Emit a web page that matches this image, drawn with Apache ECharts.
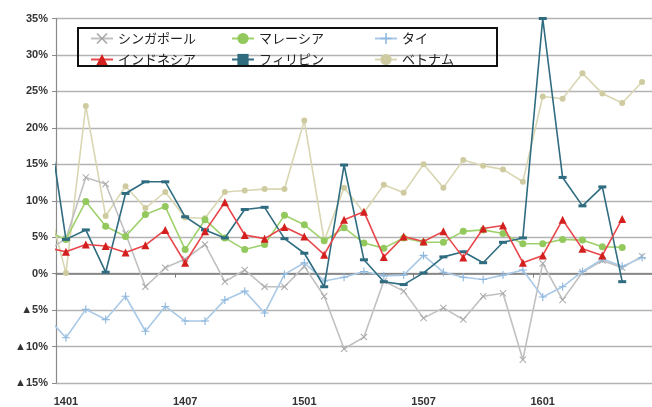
<!DOCTYPE html>
<html><head><meta charset="utf-8">
<script src="https://cdn.jsdelivr.net/npm/echarts@6/dist/echarts.min.js"></script>
<style>html,body{margin:0;padding:0;background:#fff}#c{width:652px;height:407px}</style>
</head><body><div id="c"></div>
<script>
// months (first one lies just left of the plot and is clipped, as in the source)
const categories = ['1312','1401','1402','1403','1404','1405','1406','1407','1408','1409','1410','1411','1412',
  '1501','1502','1503','1504','1505','1506','1507','1508','1509','1510','1511','1512',
  '1601','1602','1603','1604','1605','1606'];
const tickLabels = ['1401','1407','1501','1507','1601'];
const yTicks = [-15,-10,-5,0,5,10,15,20,25,30,35];

const singapore = [3.0, 4.8,13.2,12.3,5.5,-1.8,0.8,2.0,4.0,-1.1,0.5,-1.8,-1.8, 1.0,-3.1,-10.3,-8.7,-1.0,-2.4,-6.1,-4.7,-6.3,-3.1,-2.7,-11.8, 1.4,-3.6,0.2,1.8,0.8,2.4];
const malaysia  = [5.9, 4.7,9.9,6.5,5.1,8.1,9.2,3.3,7.4,4.9,3.3,4.0,8.0, 6.7,4.5,6.3,4.2,3.5,4.9,4.3,4.3,5.8,6.0,5.5,4.1, 4.1,4.7,4.6,3.7,3.6,null];
const thailand  = [-5.8, -8.8,-4.9,-6.3,-3.1,-7.9,-4.5,-6.5,-6.5,-3.6,-2.4,-5.4,-0.1, 1.5,-1.0,-0.5,0.3,-0.3,-0.2,2.5,0.2,-0.5,-0.8,-0.2,0.5, -3.2,-1.8,0.3,2.0,1.0,2.2];
const indonesia = [3.6, 3.0,4.0,3.8,2.9,3.9,6.0,1.5,5.8,9.8,5.3,4.8,6.4, 5.1,2.6,7.4,8.5,2.3,5.1,4.4,5.8,2.2,6.2,6.6,1.5, 2.5,7.4,3.4,2.5,7.5,null];
const philippines=[23.0, 4.7,6.0,0.2,11.0,12.6,12.6,7.8,6.0,4.9,8.8,9.1,4.8, 2.8,-1.8,14.9,1.9,-1.1,-1.5,0.1,2.3,3.0,1.5,4.3,4.9, 35.0,13.2,9.3,11.9,-1.1,null];
const vietnam   = [10.5, 0.1,23.0,7.9,12.0,9.0,11.2,7.7,7.6,11.2,11.4,11.6,11.6, 21.0,4.5,11.8,8.4,12.2,11.1,15.0,11.8,15.6,14.8,14.3,12.6, 24.3,24.0,27.5,24.7,23.4,26.3];

const names = ['シンガポール','マレーシア','タイ','インドネシア','フィリピン','ベトナム'];

const toPairs = arr => arr.map((v, k) => [k - 1, v]);
const labelValues = tickLabels.map(t => categories.indexOf(t) - 1);
const nPts = categories.length - 1;

const X_PATH = 'path://M0,1L1,0L5,4L9,0L10,1L6,5L10,9L9,10L5,6L1,10L0,9L4,5Z';
const PLUS_PATH = 'path://M4.3,0H5.7V4.3H10V5.7H5.7V10H4.3V5.7H0V4.3H4.3Z';

function mk(name, data, lineColor, markColor, symbol, size, z) {
  return {
    name, type: 'line', data: toPairs(data), z,
    symbol, symbolSize: size, showSymbol: true, clip: true,
    lineStyle: { color: lineColor, width: 1.6 },
    itemStyle: { color: markColor, borderColor: markColor, borderWidth: 0 },
    emphasis: { disabled: true }, animation: false
  };
}

const chart = echarts.init(document.getElementById('c'), null, { renderer: 'canvas' });
const legendBase = {
  orient: 'vertical', top: 27, itemWidth: 22, itemHeight: 14, itemGap: 8,
  textStyle: { fontSize: 13, color: '#222', fontFamily: '"Noto Sans CJK JP", sans-serif' },
  selectedMode: false
};
chart.setOption({
  backgroundColor: '#fff',
  animation: false,
  grid: { left: 56, right: 0, top: 18.5, bottom: 23.5 },
  legend: [
    Object.assign({}, legendBase, { left: 85, data: [names[0], names[3]] }),
    Object.assign({}, legendBase, { left: 226, data: [names[1], names[4]] }),
    Object.assign({}, legendBase, { left: 369, data: [names[2], names[5]] })
  ],
  graphic: [{ type: 'rect', left: 77, top: 27, shape: { width: 419, height: 38 },
    style: { fill: 'rgba(0,0,0,0)', stroke: '#111', lineWidth: 2 }, z: 50, silent: true }],
  xAxis: [
    { type: 'value', min: -0.5, max: nPts - 0.5, position: 'bottom',
      axisLine: { show: false, onZero: false }, axisTick: { show: false }, splitLine: { show: false },
      axisLabel: { customValues: labelValues, formatter: v => categories[Math.round(v) + 1],
        color: '#333', fontSize: 11, fontFamily: 'Liberation Sans, Arial', fontWeight: 'bold', margin: 13 } },
    { type: 'value', min: -0.5, max: nPts - 0.5, position: 'bottom',
      axisLine: { show: true, onZero: true, lineStyle: { color: '#7a7a7a', width: 1.5 } },
      axisTick: { show: true, customValues: [5.5, 11.5, 17.5, 23.5], length: 4, lineStyle: { color: '#7a7a7a' } },
      axisLabel: { show: false }, splitLine: { show: false } }
  ],
  yAxis: {
    type: 'value', min: yTicks[0], max: yTicks[yTicks.length - 1], interval: 5,
    axisLine: { show: true, onZero: false, lineStyle: { color: '#8a8a8a', width: 1.2 } },
    axisTick: { show: true, length: 4, lineStyle: { color: '#8a8a8a' } },
    splitLine: { show: true, lineStyle: { color: '#b3b3b3', width: 1.3 } },
    axisLabel: { color: '#333', fontSize: 11, fontWeight: 'bold', fontFamily: 'Liberation Sans, Arial', margin: 8,
      formatter: v => (v < 0 ? '▲' + (-v) : v) + '%' }
  },
  series: [
    mk(names[0], singapore, '#c0c0c0', '#a8a8a8', X_PATH, 7, 2),
    mk(names[1], malaysia, '#9fd16d', '#93c95c', 'circle', 7, 4),
    mk(names[2], thailand, '#a9c9e6', '#8fb8de', PLUS_PATH, 8, 3),
    mk(names[3], indonesia, '#e8464a', '#d41f1f', 'triangle', 8, 6),
    mk(names[4], philippines, '#2f6c80', '#2f6c80', 'rect', [8, 3], 5),
    mk(names[5], vietnam, '#d9d6b2', '#cfcba0', 'circle', 6, 1)
  ]
});
</script></body></html>
